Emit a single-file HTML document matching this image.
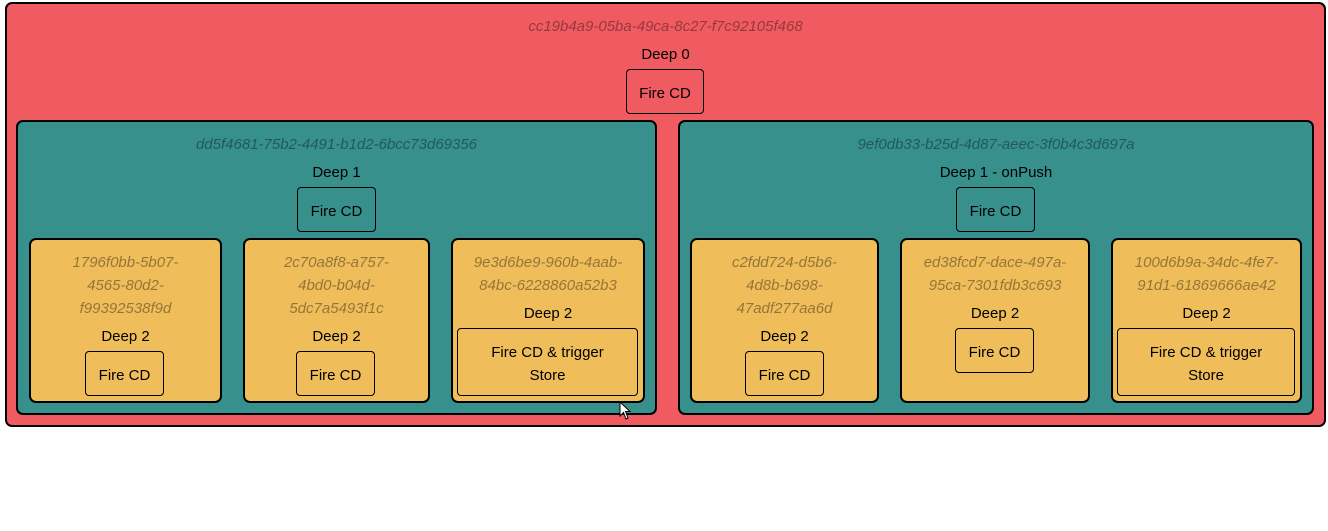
<!DOCTYPE html>
<html><head><meta charset="utf-8">
<style>
body{margin:0;width:1328px;height:531px;background:#fff;position:relative;overflow:hidden;font-family:"Comic Sans MS","Liberation Sans",sans-serif;font-size:15px;}
.b{position:absolute;box-sizing:border-box;border:2px solid #000;border-radius:7px;}
.red{background:#f05b61;}
.teal{background:#37908c;}
.yel{background:#efbd5a;}
.btn{position:absolute;box-sizing:border-box;border:1px solid #000;border-radius:4px;}
.t{position:absolute;text-align:center;line-height:20px;height:20px;white-space:nowrap;color:#000;transform:translateY(2px);}
.u{font-style:italic;color:rgba(0,0,0,0.38);font-size:15px;}
</style></head><body>
<div class="b red" style="left:5px;top:2px;width:1321px;height:425px;"></div>
<div class="t u" style="left:5px;width:1321px;top:15px;">cc19b4a9-05ba-49ca-8c27-f7c92105f468</div>
<div class="t" style="left:5px;width:1321px;top:43px;">Deep 0</div>
<div class="btn" style="left:626px;top:69px;width:78px;height:45px;"></div>
<div class="t" style="left:626px;width:78px;top:82px;">Fire CD</div>

<div class="b teal" style="left:16px;top:120px;width:641px;height:295px;"></div>
<div class="t u" style="left:16px;width:641px;top:133px;">dd5f4681-75b2-4491-b1d2-6bcc73d69356</div>
<div class="t" style="left:16px;width:641px;top:161px;">Deep 1</div>
<div class="btn" style="left:297px;top:187px;width:79px;height:45px;"></div>
<div class="t" style="left:297px;width:79px;top:200px;">Fire CD</div>

<div class="b teal" style="left:678px;top:120px;width:636px;height:295px;"></div>
<div class="t u" style="left:678px;width:636px;top:133px;">9ef0db33-b25d-4d87-aeec-3f0b4c3d697a</div>
<div class="t" style="left:678px;width:636px;top:161px;">Deep 1 - onPush</div>
<div class="btn" style="left:956px;top:187px;width:79px;height:45px;"></div>
<div class="t" style="left:956px;width:79px;top:200px;">Fire CD</div>

<div class="b yel" style="left:29px;top:238px;width:193px;height:165px;"></div>
<div class="t u" style="left:29px;width:193px;top:251px;">1796f0bb-5b07-</div>
<div class="t u" style="left:29px;width:193px;top:274px;">4565-80d2-</div>
<div class="t u" style="left:29px;width:193px;top:297px;">f99392538f9d</div>
<div class="t" style="left:29px;width:193px;top:325px;">Deep 2</div>
<div class="btn" style="left:85px;top:351px;width:79px;height:45px;"></div>
<div class="t" style="left:85px;width:79px;top:364px;">Fire CD</div>

<div class="b yel" style="left:243px;top:238px;width:187px;height:165px;"></div>
<div class="t u" style="left:243px;width:187px;top:251px;">2c70a8f8-a757-</div>
<div class="t u" style="left:243px;width:187px;top:274px;">4bd0-b04d-</div>
<div class="t u" style="left:243px;width:187px;top:297px;">5dc7a5493f1c</div>
<div class="t" style="left:243px;width:187px;top:325px;">Deep 2</div>
<div class="btn" style="left:296px;top:351px;width:79px;height:45px;"></div>
<div class="t" style="left:296px;width:79px;top:364px;">Fire CD</div>

<div class="b yel" style="left:451px;top:238px;width:194px;height:165px;"></div>
<div class="t u" style="left:451px;width:194px;top:251px;">9e3d6be9-960b-4aab-</div>
<div class="t u" style="left:451px;width:194px;top:274px;">84bc-6228860a52b3</div>
<div class="t" style="left:451px;width:194px;top:302px;">Deep 2</div>
<div class="btn" style="left:457px;top:328px;width:181px;height:68px;"></div>
<div class="t" style="left:457px;width:181px;top:341px;">Fire CD &amp; trigger</div>
<div class="t" style="left:457px;width:181px;top:364px;">Store</div>

<div class="b yel" style="left:690px;top:238px;width:189px;height:165px;"></div>
<div class="t u" style="left:690px;width:189px;top:251px;">c2fdd724-d5b6-</div>
<div class="t u" style="left:690px;width:189px;top:274px;">4d8b-b698-</div>
<div class="t u" style="left:690px;width:189px;top:297px;">47adf277aa6d</div>
<div class="t" style="left:690px;width:189px;top:325px;">Deep 2</div>
<div class="btn" style="left:745px;top:351px;width:79px;height:45px;"></div>
<div class="t" style="left:745px;width:79px;top:364px;">Fire CD</div>

<div class="b yel" style="left:900px;top:238px;width:190px;height:165px;"></div>
<div class="t u" style="left:900px;width:190px;top:251px;">ed38fcd7-dace-497a-</div>
<div class="t u" style="left:900px;width:190px;top:274px;">95ca-7301fdb3c693</div>
<div class="t" style="left:900px;width:190px;top:302px;">Deep 2</div>
<div class="btn" style="left:955px;top:328px;width:79px;height:45px;"></div>
<div class="t" style="left:955px;width:79px;top:341px;">Fire CD</div>

<div class="b yel" style="left:1111px;top:238px;width:191px;height:165px;"></div>
<div class="t u" style="left:1111px;width:191px;top:251px;">100d6b9a-34dc-4fe7-</div>
<div class="t u" style="left:1111px;width:191px;top:274px;">91d1-61869666ae42</div>
<div class="t" style="left:1111px;width:191px;top:302px;">Deep 2</div>
<div class="btn" style="left:1117px;top:328px;width:178px;height:68px;"></div>
<div class="t" style="left:1117px;width:178px;top:341px;">Fire CD &amp; trigger</div>
<div class="t" style="left:1117px;width:178px;top:364px;">Store</div>

<svg style="position:absolute;left:619px;top:401px;" width="14" height="20"><path d="M1 1 L1 15 L4.5 11.5 L7 18 L9 17 L6.5 10.5 L11 10.5 Z" fill="#fff" stroke="#000" stroke-width="1"/></svg>
</body></html>
